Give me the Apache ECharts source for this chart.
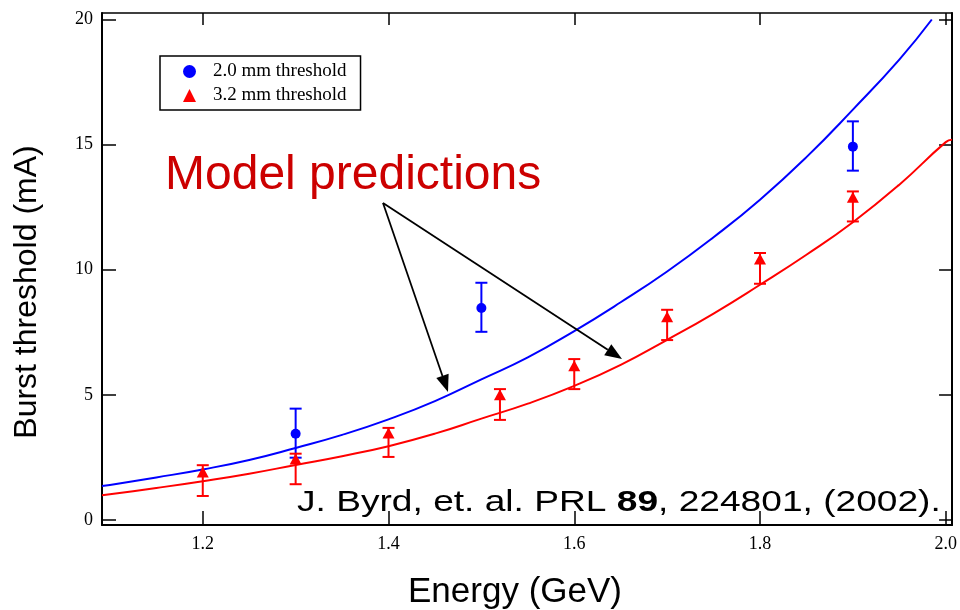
<!DOCTYPE html>
<html>
<head>
<meta charset="utf-8">
<script src="https://cdn.jsdelivr.net/npm/echarts@6/dist/echarts.min.js"></script>
<style>html,body{margin:0;padding:0;background:#fff;}#c{width:960px;height:610px;}</style>
</head>
<body>
<div id="c"></div>
<script>
// ---- data ----
const xTicks = [1.2, 1.4, 1.6, 1.8, 2.0];
const yTicks = [0, 5, 10, 15, 20];

const blueCurveE = [1.0915, 1.1, 1.15, 1.2, 1.25, 1.3, 1.35, 1.4, 1.45, 1.5, 1.55, 1.6, 1.65, 1.7, 1.75, 1.8, 1.85, 1.9, 1.95, 1.985];
const blueCurveI = [1.36, 1.4, 1.7, 2.02, 2.4, 2.88, 3.4, 4.02, 4.75, 5.62, 6.5, 7.55, 8.7, 9.93, 11.3, 12.8, 14.5, 16.4, 18.4, 20.0];

const redCurveE = [1.0915, 1.1, 1.15, 1.2, 1.25, 1.3, 1.35, 1.4, 1.45, 1.5, 1.55, 1.6, 1.65, 1.7, 1.75, 1.8, 1.85, 1.9, 1.95, 2.0, 2.0068];
const redCurveI = [0.99, 1.03, 1.28, 1.55, 1.85, 2.2, 2.55, 2.95, 3.45, 4.05, 4.65, 5.36, 6.2, 7.2, 8.25, 9.4, 10.6, 11.9, 13.4, 15.1, 15.2];

const blueE = [1.3, 1.5, 1.9];
const blueI = [3.45, 8.47, 14.92];
const blueLow = [2.49, 7.52, 13.96];
const blueHigh = [4.45, 9.48, 15.93];

const redE = [1.2, 1.3, 1.4, 1.52, 1.6, 1.7, 1.8, 1.9];
const redI = [1.92, 2.44, 3.48, 5.0, 6.16, 8.12, 10.43, 12.9];
const redLow = [0.96, 1.43, 2.52, 4.0, 5.23, 7.19, 9.44, 11.93];
const redHigh = [2.19, 2.65, 3.68, 5.23, 6.43, 8.4, 10.67, 13.13];

const seriesNames = ['2.0 mm threshold', '3.2 mm threshold'];

// ---- helpers ----
const zip = (a, b) => a.map((v, i) => [v, b[i]]);
const zip3 = (a, b, c) => a.map((v, i) => [v, b[i], c[i]]);

function errorRender(color) {
  return function (params, api) {
    const x = api.value(0);
    const lo = api.coord([x, api.value(1)]);
    const hi = api.coord([x, api.value(2)]);
    const hw = 6;
    const st = { stroke: color, lineWidth: 2 };
    return {
      type: 'group',
      children: [
        { type: 'line', shape: { x1: lo[0], y1: lo[1], x2: hi[0], y2: hi[1] }, style: st },
        { type: 'line', shape: { x1: lo[0] - hw, y1: lo[1], x2: lo[0] + hw, y2: lo[1] }, style: st },
        { type: 'line', shape: { x1: hi[0] - hw, y1: hi[1], x2: hi[0] + hw, y2: hi[1] }, style: st }
      ]
    };
  };
}

function arrow(x0, y0, x1, y1) {
  const dx = x1 - x0, dy = y1 - y0;
  const L = Math.sqrt(dx * dx + dy * dy);
  const ux = dx / L, uy = dy / L;
  const hl = 17, hw = 6.5;
  const bx = x1 - ux * hl, by = y1 - uy * hl;
  return [
    { type: 'line', shape: { x1: x0, y1: y0, x2: bx, y2: by }, style: { stroke: '#000', lineWidth: 1.8 }, z: 50 },
    { type: 'polygon', shape: { points: [[x1, y1], [bx - uy * hw, by + ux * hw], [bx + uy * hw, by - ux * hw]] }, style: { fill: '#000' }, z: 50 }
  ];
}

const chart = echarts.init(document.getElementById('c'), null, { renderer: 'canvas' });

const tickFont = { fontFamily: 'Liberation Serif', fontSize: 18, color: '#000' };

const option = {
  backgroundColor: '#fff',
  animation: false,
  grid: { left: 102, right: 6, top: 13, bottom: 85 },
  legend: {
    left: 160, top: 56,
    orient: 'vertical',
    data: seriesNames,
    itemWidth: 13, itemHeight: 13, itemGap: 5,
    padding: [6, 14, 5, 23],
    borderColor: '#000', borderWidth: 1.5,
    backgroundColor: '#fff',
    textStyle: { fontFamily: 'Liberation Serif', fontSize: 19, color: '#000', padding: [0, 0, 0, 12] },
    selectedMode: false
  },
  xAxis: [
    {
      type: 'value', min: 1.0915, max: 2.0068, position: 'bottom',
      axisLine: { show: true, onZero: false, lineStyle: { color: '#000', width: 2 } },
      axisTick: { show: true, inside: true, length: 14, customValues: xTicks, lineStyle: { color: '#000', width: 1.5 } },
      axisLabel: { show: true, customValues: xTicks, margin: 10, formatter: v => v.toFixed(1), ...tickFont },
      splitLine: { show: false }
    },
    {
      type: 'value', min: 1.0915, max: 2.0068, position: 'top',
      axisLine: { show: true, onZero: false, lineStyle: { color: '#000', width: 1.5 } },
      axisTick: { show: true, inside: true, length: 12, customValues: xTicks, lineStyle: { color: '#000', width: 1.5 } },
      axisLabel: { show: false },
      splitLine: { show: false }
    }
  ],
  yAxis: [
    {
      type: 'value', min: -0.2, max: 20.26, position: 'left',
      axisLine: { show: true, onZero: false, lineStyle: { color: '#000', width: 2 } },
      axisTick: { show: true, inside: true, length: 14, customValues: yTicks, lineStyle: { color: '#000', width: 1.5 } },
      axisLabel: { show: true, customValues: yTicks, margin: 9, ...tickFont },
      splitLine: { show: false }
    },
    {
      type: 'value', min: -0.2, max: 20.26, position: 'right',
      axisLine: { show: true, onZero: false, lineStyle: { color: '#000', width: 2 } },
      axisTick: { show: true, inside: true, length: 13, customValues: yTicks, lineStyle: { color: '#000', width: 1.5 } },
      axisLabel: { show: false },
      splitLine: { show: false }
    }
  ],
  series: [
    {
      type: 'line', name: 'blue model', data: zip(blueCurveE, blueCurveI),
      showSymbol: false, symbol: 'none', smooth: true,
      lineStyle: { color: '#0000ff', width: 2 }, z: 3
    },
    {
      type: 'line', name: 'red model', data: zip(redCurveE, redCurveI),
      showSymbol: false, symbol: 'none', smooth: true,
      lineStyle: { color: '#ff0000', width: 2 }, z: 3
    },
    {
      type: 'custom', name: 'blue err', data: zip3(blueE, blueLow, blueHigh),
      renderItem: errorRender('#0000ff'), encode: { x: 0, y: [1, 2] }, z: 4
    },
    {
      type: 'custom', name: 'red err', data: zip3(redE, redLow, redHigh),
      renderItem: errorRender('#ff0000'), encode: { x: 0, y: [1, 2] }, z: 4
    },
    {
      type: 'scatter', name: seriesNames[0], data: zip(blueE, blueI),
      symbol: 'circle', symbolSize: 10, itemStyle: { color: '#0000ff', opacity: 1 }, z: 5
    },
    {
      type: 'scatter', name: seriesNames[1], data: zip(redE, redI),
      symbol: 'triangle', symbolSize: [12, 11], itemStyle: { color: '#ff0000', opacity: 1 }, z: 5
    }
  ],
  graphic: [
    {
      type: 'text', x: 27, y: 292, rotation: Math.PI / 2,
      style: { text: 'Burst threshold (mA)', fontFamily: 'Liberation Sans', fontSize: 32, fill: '#000', align: 'center', verticalAlign: 'middle' }
    },
    {
      type: 'text', x: 515, y: 592,
      style: { text: 'Energy (GeV)', fontFamily: 'Liberation Sans', fontSize: 35, fill: '#000', align: 'center', verticalAlign: 'middle' }
    },
    {
      type: 'text', x: 165, y: 176,
      style: { text: 'Model predictions', fontFamily: 'Liberation Sans', fontSize: 48, fill: '#cc0000', align: 'left', verticalAlign: 'middle' }
    },
    {
      type: 'text', x: 297, y: 503, scaleX: 1.28, z: 60,
      style: {
        text: 'J. Byrd, et. al. PRL {b|89}, 224801, (2002).',
        fontFamily: 'Liberation Sans', fontSize: 29, fill: '#000', align: 'left', verticalAlign: 'middle',
        rich: { b: { fontFamily: 'Liberation Sans', fontSize: 29, fontWeight: 'bold', fill: '#000' } }
      }
    },
    ...arrow(383, 203, 448, 392),
    ...arrow(383, 203, 622, 359)
  ]
};

chart.setOption(option);
</script>
</body>
</html>
